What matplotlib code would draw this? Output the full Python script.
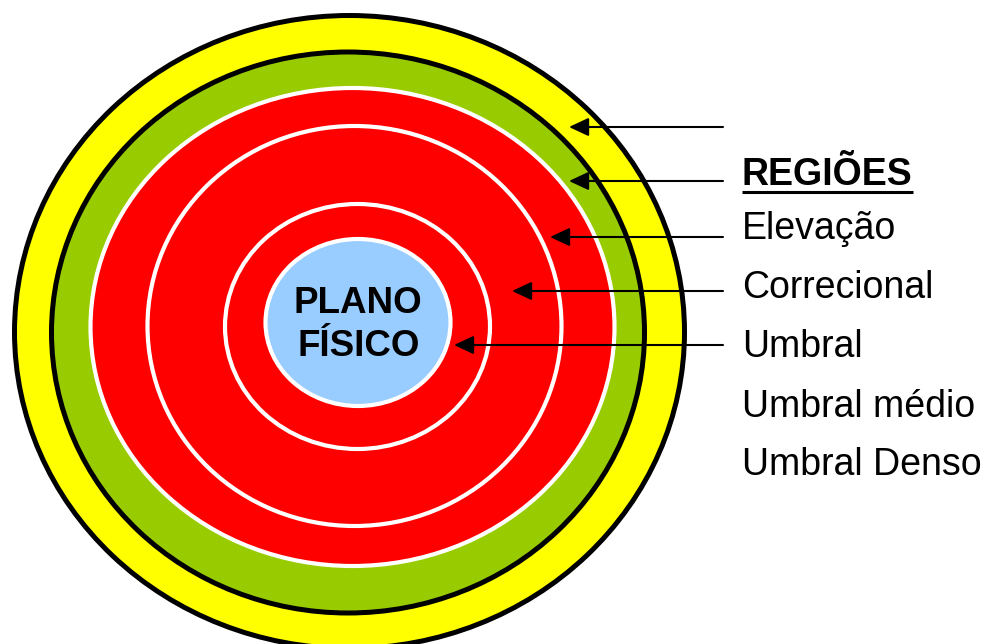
import matplotlib
matplotlib.use('Agg')
import matplotlib.pyplot as plt
from matplotlib.patches import Ellipse

plt.rcParams['font.family'] = ['Liberation Sans', 'DejaVu Sans']

# rings, outermost first (pixel coords of the boundary line centres)
ring_cx = [349.5, 348.0, 352.5, 354.5, 357.5, 358.0]
ring_cy = [332.0, 332.5, 327.0, 326.0, 326.5, 322.5]
ring_a = [335.0, 296.5, 262.0, 207.0, 132.5, 92.5]
ring_b = [316.5, 280.5, 239.0, 200.0, 122.5, 83.5]
ring_fill = ['#FFFF00', '#99CC00', '#FF0000', '#FF0000', '#FF0000', '#99CCFF']
ring_edge = ['black', 'black', 'white', 'white', 'white', 'white']
ring_lw = [3.6, 3.6, 3.0, 3.0, 3.0, 3.0]

# arrows: y position and tip x
arrow_y = [127, 181, 237, 291, 345]
arrow_tip = [569, 569, 550, 512, 454]
arrow_start = 723

title = 'REGIÕES'
labels = ['Elevação', 'Correcional', 'Umbral', 'Umbral médio', 'Umbral Denso']
label_base = [239, 298, 357, 416.5, 475]

fig = plt.figure(figsize=(9.84, 6.44), dpi=100)
ax = fig.add_axes([0, 0, 1, 1])
ax.set_xlim(0, 984)
ax.set_ylim(644, 0)
ax.axis('off')

for i in range(len(ring_a)):
    e = Ellipse((ring_cx[i], ring_cy[i]), 2 * ring_a[i], 2 * ring_b[i],
                facecolor=ring_fill[i], edgecolor=ring_edge[i],
                lw=ring_lw[i], zorder=i + 1)
    ax.add_patch(e)

ax.text(358, 313.3, 'PLANO', ha='center', va='baseline',
        fontsize=26.5, fontweight='bold', zorder=10)
ax.text(359, 356, 'FÍSICO', ha='center', va='baseline',
        fontsize=26.5, fontweight='bold', zorder=10)

for y, tip in zip(arrow_y, arrow_tip):
    ax.annotate('', xy=(tip, y), xytext=(arrow_start, y),
                arrowprops=dict(arrowstyle='-|>,head_length=1.2,head_width=0.56',
                                color='black', lw=1.5,
                                shrinkA=0, shrinkB=0),
                zorder=11)

t = ax.text(742, 185, title, ha='left', va='baseline',
            fontsize=27, fontweight='bold')
for lab, yb in zip(labels, label_base):
    ax.text(742, yb, lab, ha='left', va='baseline', fontsize=27)

# underline for the title
fig.canvas.draw()
bb = t.get_window_extent().transformed(ax.transData.inverted())
ax.plot([bb.x0, bb.x1], [191.7, 191.7], color='black', lw=2.2,
        solid_capstyle='butt')

fig.savefig('out.png', dpi=100)
